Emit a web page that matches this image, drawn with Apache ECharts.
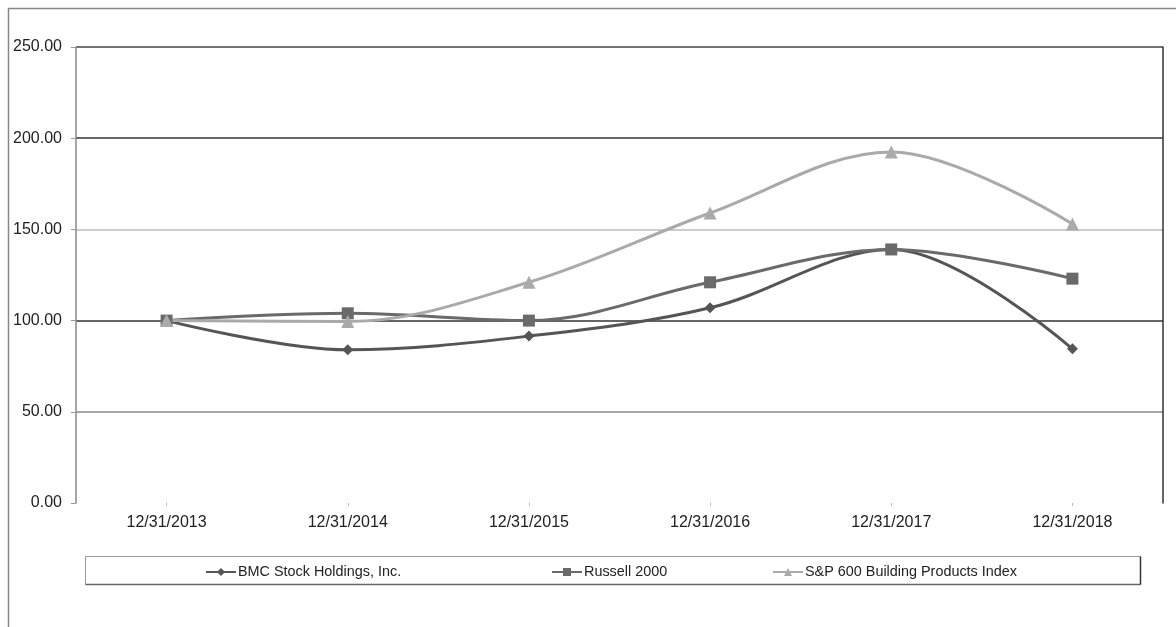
<!DOCTYPE html>
<html>
<head>
<meta charset="utf-8">
<script src="https://cdn.jsdelivr.net/npm/echarts@6/dist/echarts.min.js"></script>
<style>html,body{margin:0;padding:0;background:#fff;}#c{width:1176px;height:627px;}</style>
</head>
<body>
<div id="c"></div>
<script>
const categories = ['12/31/2013','12/31/2014','12/31/2015','12/31/2016','12/31/2017','12/31/2018'];
const bmc = [100, 84, 91.5, 107, 139, 84.5];
const russell = [100, 104, 100, 121, 139, 123];
const sp600 = [100, 99.5, 121, 159, 192.5, 153];
const seriesNames = ['BMC Stock Holdings, Inc.', 'Russell 2000', 'S&P 600 Building Products Index'];
const yTicks = [0, 50, 100, 150, 200, 250];

const font = 'Liberation Sans, Arial, sans-serif';
const chart = echarts.init(document.getElementById('c'));
const mk = (name, data, color, symbol, size) => ({
  name, type: 'line', data, smooth: 0.35, symbol, symbolSize: size,
  lineStyle: { color, width: 3 }, itemStyle: { color }, z: 3
});
const legendText = { fontFamily: font, fontSize: 14.4, color: '#222', padding: [0, 0, 0, -3] };
chart.setOption({
  animation: false,
  backgroundColor: '#fff',
  grid: { left: 76, top: 47, right: 13, bottom: 124, containLabel: false },
  xAxis: {
    type: 'category', data: categories, boundaryGap: true,
    axisLine: { show: false },
    axisTick: { show: true, alignWithLabel: true, length: 3, lineStyle: { color: '#bbb' } },
    axisLabel: { color: '#222', fontFamily: font, fontSize: 16, margin: 12 }
  },
  yAxis: [{
    type: 'value', min: yTicks[0], max: yTicks[yTicks.length - 1], interval: 50,
    axisLine: { show: true, lineStyle: { color: '#888', width: 1.5 } },
    axisTick: { show: true, length: 5, lineStyle: { color: '#999' } },
    axisLabel: { color: '#222', fontFamily: font, fontSize: 16, margin: 14,
      formatter: v => v.toFixed(2) },
    splitLine: { show: true, lineStyle: { color: ['rgba(0,0,0,0)', '#888', '#333', '#bbb', '#333', '#444'], width: 1.5 } }
  }, {
    type: 'value', min: 0, max: 250, interval: 50, position: 'right',
    axisLine: { show: true, lineStyle: { color: '#333', width: 1.5 } },
    axisTick: { show: false }, axisLabel: { show: false }, splitLine: { show: false }
  }],
  legend: [
    { data: [seriesNames[0]], left: 205, top: 565, padding: 0, itemWidth: 30, itemHeight: 10, textStyle: legendText },
    { data: [seriesNames[1]], left: 551, top: 565, padding: 0, itemWidth: 30, itemHeight: 10, textStyle: legendText },
    { data: [seriesNames[2]], left: 772, top: 565, padding: 0, itemWidth: 30, itemHeight: 10, textStyle: legendText }
  ],
  graphic: [
    { type: 'rect', shape: { x: 8.5, y: 8.5, width: 1200, height: 700 }, style: { fill: 'none', stroke: '#888', lineWidth: 1.5 }, z: -1 },
    { type: 'rect', shape: { x: 85.5, y: 556.5, width: 1055, height: 28 }, style: { fill: 'none', stroke: '#999', lineWidth: 1 }, z: 0 },
    { type: 'line', shape: { x1: 85.5, y1: 584.5, x2: 1140.5, y2: 584.5 }, style: { stroke: '#666', lineWidth: 1.5 }, z: 1 },
    { type: 'line', shape: { x1: 1140.5, y1: 556.5, x2: 1140.5, y2: 584.5 }, style: { stroke: '#333', lineWidth: 1.5 }, z: 1 }
  ],
  series: [
    mk(seriesNames[0], bmc, '#555', 'diamond', 11),
    mk(seriesNames[1], russell, '#6a6a6a', 'rect', 12),
    mk(seriesNames[2], sp600, '#aaa', 'triangle', 13)
  ]
});
</script>
</body>
</html>
